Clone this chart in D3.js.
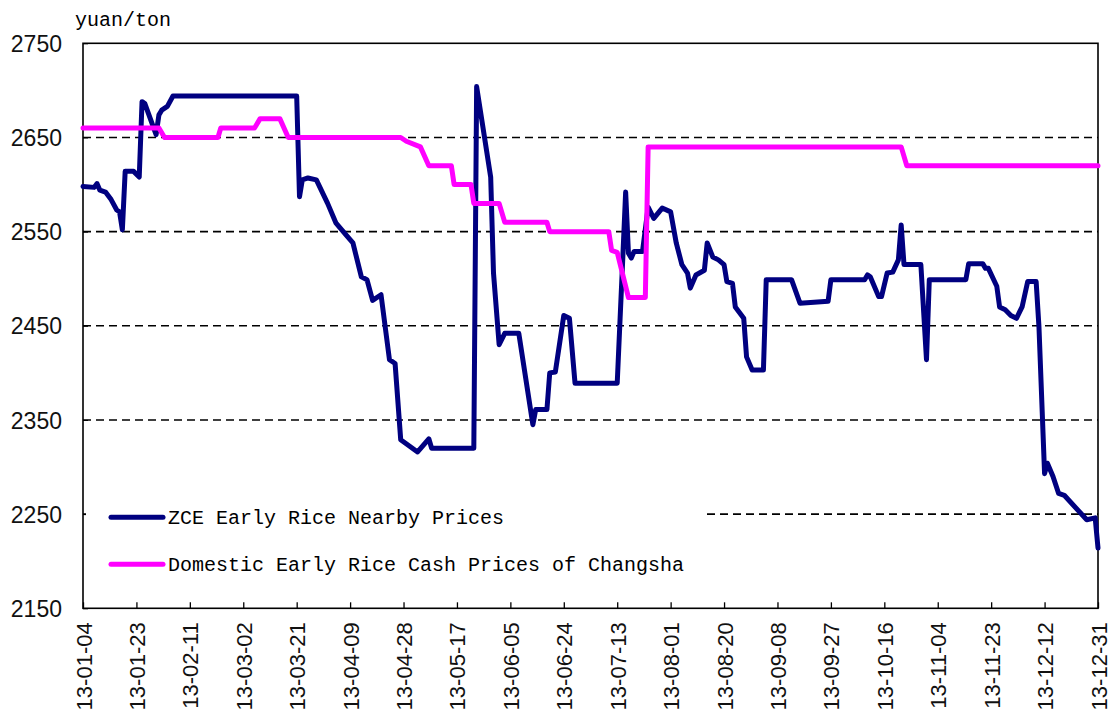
<!DOCTYPE html>
<html>
<head>
<meta charset="utf-8">
<script src="https://cdn.jsdelivr.net/npm/d3@7"></script>
<style>
  body { margin: 0; background: #fff; }
  svg { display: block; }
  .gridline { stroke: #000; stroke-width: 1.6; stroke-dasharray: 8,5; }
  .ylab { font-family: "Liberation Sans", Arial, sans-serif; font-size: 23px; fill: #111; }
  .xlab { font-family: "Liberation Sans", Arial, sans-serif; font-size: 22px; fill: #111; }
  .mono { font-family: "Liberation Mono", "Courier New", monospace; font-size: 20px; fill: #000; }
</style>
</head>
<body>
<div id="chart"></div>
<script>
// ZCE early rice nearby futures (vertices)
var zceDates = ["01-04","01-08","01-09","01-10","01-12","01-14","01-16","01-17","01-18","01-19",
  "01-22","01-24","01-25","01-26","01-30","01-31","02-01","02-03","02-05","03-21",
  "03-22","03-23","03-25","03-28","04-01","04-04","04-08","04-10","04-13","04-15",
  "04-17","04-20","04-23","04-25","04-27","05-03","05-07","05-08","05-23","05-24",
  "05-29","05-30","06-01","06-03","06-08","06-13","06-14","06-18","06-19","06-21",
  "06-24","06-26","06-28","07-13","07-15","07-16","07-17","07-18","07-19","07-22",
  "07-24","07-26","07-29","08-01","08-03","08-05","08-07","08-08","08-10","08-13",
  "08-14","08-16","08-18","08-20","08-21","08-23","08-24","08-27","08-28","08-30",
  "09-03","09-04","09-13","09-16","09-26","09-27","10-09","10-10","10-11","10-14",
  "10-15","10-17","10-19","10-21","10-22","10-23","10-29","10-31","11-01","11-14",
  "11-15","11-20","11-21","11-22","11-25","11-26","11-28","11-30","12-02","12-04",
  "12-06","12-09","12-10","12-12","12-13","12-15","12-17","12-19","12-27","12-30","12-31"];
var zceValues = [2598,2597,2601,2594,2592,2584,2573,2571,2552,2614,
  2614,2608,2688,2686,2653,2674,2679,2683,2694,2694,
  2587,2605,2607,2605,2580,2559,2545,2538,2502,2499,
  2477,2483,2414,2410,2329,2316,2330,2320,2320,2704,
  2608,2506,2430,2442,2442,2345,2361,2361,2400,2401,
  2461,2458,2389,2389,2523,2592,2527,2522,2529,2529,
  2576,2564,2575,2571,2538,2515,2506,2490,2504,2509,
  2538,2523,2520,2515,2497,2495,2470,2458,2417,2403,
  2403,2499,2499,2474,2476,2499,2499,2504,2502,2481,
  2481,2506,2507,2520,2557,2515,2515,2414,2499,2499,
  2516,2516,2511,2511,2492,2470,2467,2461,2458,2470,
  2497,2497,2449,2293,2304,2290,2272,2270,2244,2246,2214];

// Changsha cash prices
var cashDates = ["01-04","01-31","02-02","02-21","02-22","03-06","03-08","03-15","03-18","04-27",
  "04-29","05-04","05-07","05-15","05-16","05-22","05-23","06-01","06-03","06-18",
  "06-19","07-10","07-11","07-13","07-17","07-23","07-24","10-22","10-24","12-31"];
var cashValues = [2660,2660,2650,2650,2660,2660,2670,2670,2650,2650,
  2646,2640,2620,2620,2600,2600,2580,2580,2560,2560,
  2550,2550,2530,2528,2480,2480,2640,2640,2620,2620];

var yTicks = [2150, 2250, 2350, 2450, 2550, 2650, 2750];
var xTickLabels = ["13-01-04","13-01-23","13-02-11","13-03-02","13-03-21","13-04-09","13-04-28",
  "13-05-17","13-06-05","13-06-24","13-07-13","13-08-01","13-08-20","13-09-08","13-09-27",
  "13-10-16","13-11-04","13-11-23","13-12-12","13-12-31"];
var seriesNames = ["ZCE Early Rice Nearby Prices", "Domestic Early Rice Cash Prices of Changsha"];
var seriesColors = ["#000080", "#ff00ff"];

var svgWidth = 1111, svgHeight = 723;
var margin = { top: 43.3, right: 13, bottom: 114.7, left: 83 };
var width = svgWidth - margin.left - margin.right;
var height = svgHeight - margin.top - margin.bottom;

var parseDay = d3.timeParse("%Y-%m-%d");
var parseTick = d3.timeParse("%y-%m-%d");

var svg = d3.select("#chart").append("svg")
  .attr("width", svgWidth)
  .attr("height", svgHeight);
svg.append("rect").attr("width", svgWidth).attr("height", svgHeight).attr("fill", "#fff");

var g = svg.append("g").attr("transform", `translate(${margin.left},${margin.top})`);

var x = d3.scaleTime()
  .domain([parseDay("2013-01-04"), parseDay("2013-12-31")])
  .range([0, width]);
var y = d3.scaleLinear().domain([2150, 2750]).range([height, 0]);

// dashed gridlines
g.selectAll(".gridline")
  .data(yTicks.filter(v => v > 2150 && v < 2750))
  .enter().append("line")
  .attr("class", "gridline")
  .attr("x1", 0).attr("x2", width)
  .attr("y1", d => y(d)).attr("y2", d => y(d));

// y axis labels (ticks inside)
var yAxis = g.append("g")
  .call(d3.axisLeft(y).tickValues(yTicks).tickSize(-5).tickPadding(21).tickFormat(d3.format("d")));
yAxis.select(".domain").remove();
yAxis.selectAll("line").attr("stroke", "#000");
yAxis.selectAll("text").attr("class", "ylab").attr("dy", "0.35em");

// x axis
var xAxis = g.append("g")
  .attr("transform", `translate(0,${height})`)
  .call(d3.axisBottom(x)
    .tickValues(xTickLabels.map(s => parseTick(s)))
    .tickSize(-6)
    .tickFormat(d3.timeFormat("%y-%m-%d")));
xAxis.select(".domain").remove();
xAxis.selectAll("line").attr("stroke", "#000").attr("stroke-width", 1.3);
xAxis.selectAll("text")
  .attr("class", "xlab")
  .attr("transform", "rotate(-90)")
  .attr("text-anchor", "end")
  .attr("x", -14)
  .attr("y", 8)
  .attr("dy", 0);

// plot frame
g.append("rect")
  .attr("width", width).attr("height", height)
  .attr("fill", "none").attr("stroke", "#000").attr("stroke-width", 1.6);

var line = d3.line()
  .x(d => x(d.date))
  .y(d => y(d.value));

function build(dates, values) {
  return dates.map((s, i) => ({ date: parseDay("2013-" + s), value: values[i] }));
}

var series = [build(zceDates, zceValues), build(cashDates, cashValues)];

series.forEach(function(data, i) {
  g.append("path")
    .datum(data)
    .attr("fill", "none")
    .attr("stroke", seriesColors[i])
    .attr("stroke-width", 5)
    .attr("stroke-linejoin", "round")
    .attr("stroke-linecap", "round")
    .attr("d", line);
});

// legend (white box hides the grid behind it)
var legend = g.append("g").attr("transform", "translate(3,449)");
legend.append("rect").attr("width", 620).attr("height", 95).attr("fill", "#fff");
seriesNames.forEach(function(name, i) {
  var ly = 25 + i * 47;
  legend.append("line")
    .attr("x1", 25).attr("x2", 77)
    .attr("y1", ly).attr("y2", ly)
    .attr("stroke", seriesColors[i])
    .attr("stroke-width", 5)
    .attr("stroke-linecap", "round");
  legend.append("text")
    .attr("class", "mono")
    .attr("x", 82).attr("y", ly)
    .attr("dy", "0.35em")
    .text(name);
});

// unit label
svg.append("text")
  .attr("class", "mono")
  .attr("x", 75).attr("y", 26)
  .text("yuan/ton");
</script>
</body>
</html>
